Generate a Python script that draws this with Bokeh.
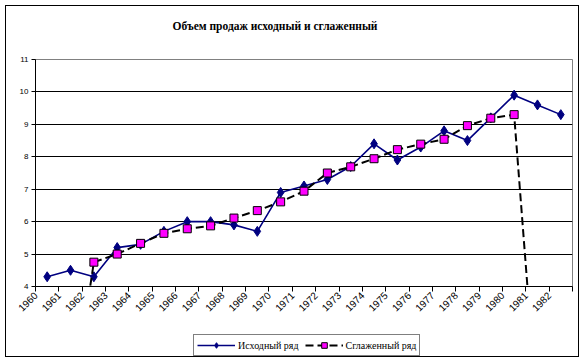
import math
from bokeh.plotting import figure
from bokeh.layouts import column
from bokeh.models import FixedTicker, Legend, LegendItem, Range1d, ColumnDataSource, Label
from bokeh.embed import file_html
from bokeh.resources import INLINE

# ---- data ----
years = list(range(1960, 1983))
original = [4.3, 4.5, 4.3, 5.2, 5.3, 5.7, 6.0, 6.0, 5.9, 5.7, 6.9, 7.1,
            7.3, 7.7, 8.4, 7.9, 8.3, 8.8, 8.5, 9.2, 9.9, 9.6, 9.3]
smoothed = [math.nan, 0, 4.75, 5.0, 5.33, 5.64, 5.78, 5.87, 6.11, 6.34, 6.61, 6.94,
            7.5, 7.69, 7.94, 8.22, 8.39, 8.54, 8.96, 9.19, 9.3, 0, math.nan]
y_ticks = [4, 5, 6, 7, 8, 9, 10, 11]
title_text = "Объем продаж исходный и сглаженный"
series_names = ["Исходный ряд", "Сглаженный ряд"]

x_ticks = years + [years[-1] + 1]
xc = [y + 0.5 for y in years]

src = ColumnDataSource(dict(x=xc, orig=original, smooth=smoothed))

W = 574
BORDER = "1px solid black"

def strip(height, sides):
    f = figure(width=W, height=height, output_backend="svg", toolbar_location=None,
               x_range=Range1d(0, W), y_range=Range1d(0, height),
               x_axis_type=None, y_axis_type=None,
               min_border_left=0, min_border_right=0, min_border_top=0, min_border_bottom=0)
    f.styles = {f"border-{s}": BORDER for s in sides}
    f.outline_line_color = None
    f.grid.visible = False
    return f

# title strip
hd = strip(40, ["top", "left", "right"])
hd.add_layout(Label(x=256, y=21, text=title_text, text_align="center", text_baseline="middle",
                    text_font="Liberation Serif", text_font_style="bold",
                    text_font_size="11.5px", text_color="black"))

# main chart
p = figure(width=W, height=282, output_backend="svg", toolbar_location=None,
           x_range=Range1d(x_ticks[0], x_ticks[-1]), y_range=Range1d(y_ticks[0], y_ticks[-1]),
           min_border_left=29, min_border_right=8, min_border_top=14, min_border_bottom=41)
p.styles = {"border-left": BORDER, "border-right": BORDER}

p.outline_line_color = "#808080"
p.outline_line_width = 1

p.xgrid.visible = False
p.ygrid.ticker = FixedTicker(ticks=y_ticks)
p.ygrid.grid_line_color = "black"
p.ygrid.grid_line_width = 1

p.yaxis.ticker = FixedTicker(ticks=y_ticks)
p.yaxis.axis_line_color = "black"
p.yaxis.major_tick_line_color = "black"
p.yaxis.major_tick_out = 4
p.yaxis.major_tick_in = 0
p.yaxis.minor_tick_line_color = None
p.yaxis.major_label_text_font = "Liberation Sans"
p.yaxis.major_label_text_font_size = "8px"
p.yaxis.major_label_text_color = "black"
p.yaxis.major_label_standoff = 3

p.xaxis.ticker = FixedTicker(ticks=x_ticks)
p.xaxis.major_label_overrides = {x_ticks[-1]: ""}
p.xaxis.axis_line_color = "black"
p.xaxis.major_tick_line_color = "black"
p.xaxis.major_tick_out = 5
p.xaxis.major_tick_in = 0
p.xaxis.minor_tick_line_color = None
p.xaxis.major_label_orientation = math.pi / 4
p.xaxis.major_label_text_font = "Liberation Sans"
p.xaxis.major_label_text_font_size = "10px"
p.xaxis.major_label_text_color = "black"
p.xaxis.major_label_standoff = 2

def draw(fig):
    l1 = fig.line("x", "orig", source=src, line_color="#000080", line_width=1.6)
    m1 = fig.scatter("x", "orig", source=src, marker="diamond", size=10,
                     fill_color="#000080", line_color="#000080")
    l2 = fig.line("x", "smooth", source=src, line_color="black", line_width=2, line_dash="8 4")
    m2 = fig.scatter("x", "smooth", source=src, marker="square", size=8,
                     fill_color="#FF00FF", line_color="black", line_width=1)
    return l1, m1, l2, m2

draw(p)

# legend strip
q = strip(30, ["bottom", "left", "right"])
q.x_range = Range1d(0, 1)
q.y_range = Range1d(0, 1)
l1, m1, l2, m2 = draw(q)

legend = Legend(items=[LegendItem(label=series_names[0], renderers=[l1, m1]),
                       LegendItem(label=series_names[1], renderers=[l2, m2])],
                orientation="horizontal", location=(158, 1),
                border_line_color="black", border_line_width=1,
                background_fill_alpha=1, padding=3, spacing=6, margin=0,
                glyph_width=38, glyph_height=14, label_standoff=3,
                label_text_font="Liberation Serif", label_text_font_size="10px",
                label_text_color="black", label_height=14)
q.add_layout(legend, "center")

layout = column(hd, p, q, spacing=0)
layout.styles = {"margin-left": "5px", "margin-top": "5px"}
open("out.html", "w").write(file_html(layout, INLINE))
